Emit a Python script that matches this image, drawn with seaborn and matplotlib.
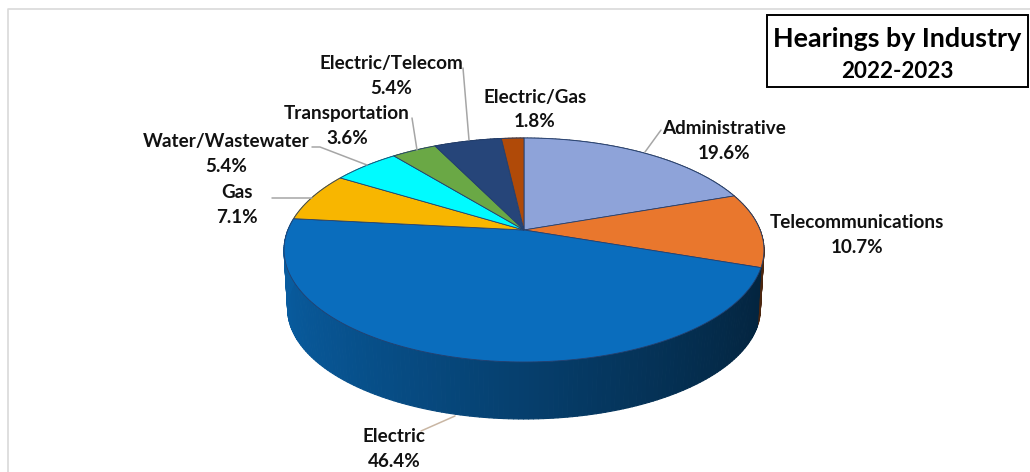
import numpy as np
import matplotlib
matplotlib.use("Agg")
import matplotlib.pyplot as plt
from matplotlib.collections import PolyCollection
from matplotlib.path import Path
from matplotlib.transforms import Affine2D, Transform
import seaborn as sns

industries = ["Administrative", "Telecommunications", "Electric", "Gas",
              "Water/Wastewater", "Transportation", "Electric/Telecom", "Electric/Gas"]
shares = [19.6, 10.7, 46.4, 7.1, 5.4, 3.6, 5.4, 1.8]
slice_colors = ["#8ea3d9", "#e9772d", "#0a6dbd", "#f8b600",
                "#00fbff", "#6aa845", "#264579", "#b04a08"]
title_lines = ["Hearings by Industry", "2022-2023"]

# label centres in figure pixels: (x, y of name line, y of value line)
label_pos = [(724, 128.5, 153.5), (857, 222.5, 247.5), (394, 436.5, 461.5), (237, 192.5, 217.5),
             (226, 141.5, 166.5), (347, 113.5, 138.5), (391, 63.5, 88.5), (535, 97.5, 121.5)]
leaders = [([661, 645], [130, 152], "#a6a6a6"),
           ([272, 312], [198, 198], "#a6a6a6"),
           ([312, 320, 367], [147, 147, 165], "#a6a6a6"),
           ([412, 417], [118, 150], "#a6a6a6"),
           ([463, 469], [68, 140], "#a6a6a6"),
           ([421, 455], [431, 416], "#c9b6a3")]

sns.set_theme(style="white")
plt.rcParams["font.family"] = ["Lato", "DejaVu Sans"]


class Perspective(Transform):
    """Unit-circle pie plane to figure pixels, seen in perspective from the front."""
    input_dims = output_dims = 2

    def __init__(self, scale=1.0, dy=0.0):
        super().__init__()
        self.scale, self.dy = scale, dy

    def transform_non_affine(self, values):
        v = np.asarray(values, float)
        d = 1 + 0.1786 * v[:, 1]
        return np.column_stack([524 + self.scale * 236.1 * v[:, 0] / d,
                                230 + self.dy - self.scale * 108.4 * v[:, 1] / d])

    def transform_path_non_affine(self, path):
        # flatten the arcs first so that they stay smooth after the projection
        big = path.transformed(Affine2D().scale(1000))
        poly = big.to_polygons(closed_only=False)[0] / 1000
        return Path(self.transform_non_affine(poly))


fig = plt.figure(figsize=(10.3, 4.72), dpi=100, facecolor="white")
ax = fig.add_axes([0, 0, 1, 1])
palette = sns.color_palette(slice_colors)

# Side wall, shaded from left to right
top_rim, bottom_rim = Perspective(), Perspective(0.985, 59)
edges = np.cumsum([0] + shares) / sum(shares) * 2 * np.pi
quads, quad_colors = [], []
for start, stop, color in zip(edges[:-1], edges[1:], palette):
    n = max(2, int(np.degrees(stop - start)))
    t = np.linspace(start, stop, n + 1)
    circle = np.column_stack([np.sin(t), np.cos(t)])
    upper, lower = top_rim.transform_non_affine(circle), bottom_rim.transform_non_affine(circle)
    for i in range(n):
        quads.append([upper[i], upper[i + 1], lower[i + 1], lower[i]])
        f = 0.84 - 0.26 * (circle[i, 0] + 1)
        quad_colors.append(tuple(c * f for c in color))
ax.add_collection(PolyCollection(quads, facecolors=quad_colors, edgecolors=quad_colors,
                                 linewidths=0.8, zorder=1))

# Top surface
wedges, _ = ax.pie(shares, colors=palette, startangle=90, counterclock=False,
                   wedgeprops=dict(edgecolor="#24406f", linewidth=0.6))
for w in wedges:
    w.set_transform(Perspective() + ax.transData)
    w.set_zorder(2)

ax.set_aspect("auto")
ax.set_xlim(0, 1030)
ax.set_ylim(472, 0)
ax.axis("off")

# Panel border
ax.plot([8, 8, 1030], [472, 9, 9], color="#d9d9d9", lw=1.2, zorder=0)

for xs, ys, c in leaders:
    ax.plot(xs, ys, color=c, lw=1.1, zorder=3)

for name, share, (x, y1, y2) in zip(industries, shares, label_pos):
    ax.text(x, y1, name, ha="center", va="center", fontsize=13.6, fontweight="bold",
            color="#111111", zorder=4)
    ax.text(x, y2, f"{share:.1f}%", ha="center", va="center", fontsize=13.6, fontweight="bold",
            color="#111111", zorder=4)

ax.add_patch(plt.Rectangle((767, 15), 261, 72, facecolor="white", edgecolor="black", lw=1.4, zorder=3))
ax.text(897, 39, title_lines[0], ha="center", va="center", fontsize=19.4, fontweight="bold",
        color="black", zorder=4)
ax.text(897, 71, title_lines[1], ha="center", va="center", fontsize=16.2, fontweight="bold",
        color="black", zorder=4)

fig.savefig("out.png", dpi=100)
